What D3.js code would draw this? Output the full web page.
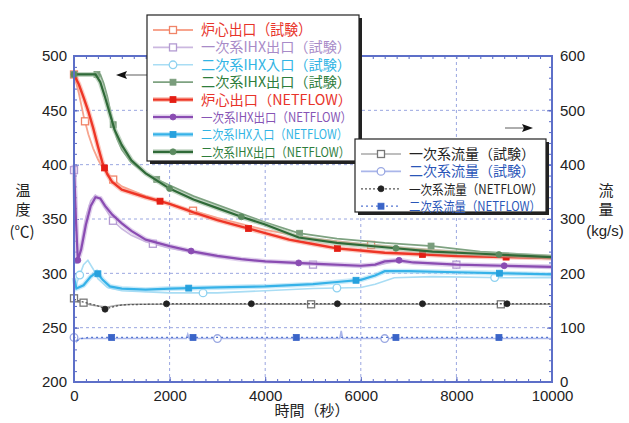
<!DOCTYPE html>
<html>
<head>
<meta charset="utf-8">
<script src="https://cdn.jsdelivr.net/npm/d3@7"></script>
<style>
  body { margin: 0; background: #fff; }
</style>
</head>
<body>
<div id="chart"></div>
<script>
// temperature series [time (s), temperature (C)]
var coreTest = [[0,483],[100,466],[200,445],[300,428],[400,415],[500,405],[600,397],[800,387],[1000,380],[1500,371],[2000,364],[3000,351],[4000,340],[5000,332],[6000,327],[7000,323],[8000,320],[9000,317],[10000,316]];
var pIhxTest = [[0,395],[40,345],[90,315],[160,328],[250,352],[350,367],[450,372],[550,368],[650,360],[800,349],[1000,341],[1200,335],[1500,329],[2000,323],[3000,315],[4000,311],[5000,308],[6000,306],[6400,308],[6700,311],[7000,310],[8000,308],[10000,305]];
var sInTest = [[0,285],[100,296],[200,308],[290,312],[400,304],[500,295],[700,287],[1000,284],[2000,282],[3000,282],[4000,284],[5000,286],[6000,287],[6300,290],[6700,296],[7500,297],[9000,296],[10000,296]];
var sOutTest = [[0,483],[550,483],[620,475],[700,462],[800,440],[900,424],[1000,414],[1200,402],[1500,392],[1750,386],[2000,381],[2500,371],[3000,363],[3500,355],[4000,347],[4700,337],[5500,332],[6500,328],[7500,325],[8500,320],[10000,316]];
var coreNF = [[0,483],[100,474],[200,462],[300,449],[400,434],[500,417],[600,401],[700,391],[800,384],[1000,377],[1500,370],[2000,364],[2500,356],[3000,349],[3500,343],[4000,337],[4500,331],[5000,327],[5500,323],[6000,321],[6500,319],[7000,318],[8000,316],[9000,315],[10000,314]];
var pIhxNF = [[0,400],[40,350],[80,312],[150,322],[250,345],[350,362],[450,370],[550,369],[650,362],[800,354],[1000,346],[1200,339],[1500,331],[2000,325],[2500,320],[3000,316],[3500,313],[4000,311],[5000,309],[6000,307],[6300,308],[6500,311],[6800,312],[7100,310],[8000,308],[9000,307],[10000,306]];
var sInNF = [[0,296],[50,286],[200,289],[350,297],[475,301],[600,294],[750,288],[1000,286],[1500,285],[2000,286],[3000,287],[4000,288],[5000,290],[5500,292],[6000,294],[6300,298],[6500,302],[7000,302],[8000,301],[9000,300],[10000,299]];
var sOutNF = [[0,483],[450,483],[550,476],[650,462],[750,447],[850,432],[1000,418],[1200,404],[1500,392],[2000,378],[2500,368],[3000,360],[3500,352],[4000,345],[4700,333],[5500,328],[6500,324],[7500,320],[8500,318],[10000,315]];

// flow series [time (s), flow (kg/s)]
var pFlowTest = [[0,154],[100,147],[200,146],[350,142],[500,140],[700,138],[900,141],[1200,143],[2000,143],[10000,143]];
var sFlowTest = [[0,82],[50,74],[120,80],[300,80],[2350,80],[2380,88],[2410,80],[5560,80],[5590,94],[5620,80],[10000,80]];
var pFlowNF = [[0,152],[150,148],[300,145],[500,140],[650,134],[800,138],[1000,142],[1500,143],[2000,144],[10000,144]];
var sFlowNF = [[0,84],[60,76],[150,80],[300,82],[1000,82],[10000,82]];

// marker times along each series
var coreTestMarks = [0, 230, 820, 2490, 6215];
var pIhxTestMarks = [0, 815, 1650, 5000, 8000];
var sInTestMarks = [120, 2700, 5500, 8800];
var sOutTestMarks = [0, 480, 820, 1730, 4720, 7470];
var coreNFMarks = [640, 1800, 3650, 5510, 7290, 9040];
var pIhxNFMarks = [80, 2450, 4700, 6800, 9000];
var sInNFMarks = [500, 2400, 5900, 8900];
var sOutNFMarks = [0, 2000, 3500, 6735, 8890];
var pFlowTestMarks = [0, 200, 4960, 8930];
var sFlowTestMarks = [0, 3000, 6500];
var pFlowNFMarks = [650, 1935, 3710, 5510, 7290, 9060];
var sFlowNFMarks = [787, 2490, 4650, 6735, 8890];

// axis ticks
var xTicks = [0, 2000, 4000, 6000, 8000, 10000];
var tTicks = [200, 250, 300, 350, 400, 450, 500];
var fTicks = [0, 100, 200, 300, 400, 500, 600];

// legend labels
var tempLabels = ["炉心出口（試験）", "一次系IHX出口（試験）", "二次系IHX入口（試験）", "二次系IHX出口（試験）",
                  "炉心出口（NETFLOW）", "一次系IHX出口（NETFLOW）", "二次系IHX入口（NETFLOW）", "二次系IHX出口（NETFLOW）"];
var flowLabels = ["一次系流量（試験）", "二次系流量（試験）", "一次系流量（NETFLOW）", "二次系流量（NETFLOW）"];

var W = 629, H = 423;
var pLeft = 74, pRight = 552, pTop = 56, pBottom = 382;
var numFont = "'Liberation Sans', Arial, sans-serif";
var jpFont = "'Noto Sans CJK JP', 'Noto Sans', sans-serif";

var x = d3.scaleLinear().domain([0, 10000]).range([pLeft, pRight]);
var yT = d3.scaleLinear().domain([200, 500]).range([pBottom, pTop]);
var yF = d3.scaleLinear().domain([0, 600]).range([pBottom, pTop]);

var svg = d3.select("#chart").append("svg")
    .attr("width", W)
    .attr("height", H);

// dashed grid
svg.append("g").selectAll("line")
    .data(xTicks.slice(1, -1))
    .enter().append("line")
    .attr("x1", function(d) { return x(d); })
    .attr("x2", function(d) { return x(d); })
    .attr("y1", pTop).attr("y2", pBottom)
    .style("stroke", "#9aa6e0").style("stroke-width", 1).style("stroke-dasharray", "3,3");
svg.append("g").selectAll("line")
    .data(tTicks.slice(1, -1))
    .enter().append("line")
    .attr("x1", pLeft).attr("x2", pRight)
    .attr("y1", function(d) { return yT(d); })
    .attr("y2", function(d) { return yT(d); })
    .style("stroke", "#9aa6e0").style("stroke-width", 1).style("stroke-dasharray", "3,3");

// axes with inside ticks
function styleAxis(g) {
    g.select(".domain").remove();
    g.selectAll(".tick line").style("stroke", "#5566c4");
    g.selectAll("text").style("font-family", numFont).style("font-size", "15px").style("fill", "#222");
}
var minorX = d3.range(0, 10001, 250);
var minorT = d3.range(200, 501, 10);
var minorF = d3.range(0, 601, 20);

svg.append("g").attr("transform", "translate(0," + pBottom + ")")
    .call(d3.axisBottom(x).tickValues(xTicks).tickSize(-5).tickPadding(8).tickFormat(d3.format("d")))
    .call(styleAxis);
svg.append("g").attr("transform", "translate(0," + pBottom + ")")
    .call(d3.axisBottom(x).tickValues(minorX).tickSize(-3).tickFormat(""))
    .call(styleAxis);
svg.append("g").attr("transform", "translate(0," + pTop + ")")
    .call(d3.axisTop(x).tickValues(minorX).tickSize(-3).tickFormat(""))
    .call(styleAxis);
svg.append("g").attr("transform", "translate(" + pLeft + ",0)")
    .call(d3.axisLeft(yT).tickValues(tTicks).tickSize(-5).tickPadding(7))
    .call(styleAxis);
svg.append("g").attr("transform", "translate(" + pLeft + ",0)")
    .call(d3.axisLeft(yT).tickValues(minorT).tickSize(-3).tickFormat(""))
    .call(styleAxis);
svg.append("g").attr("transform", "translate(" + pRight + ",0)")
    .call(d3.axisRight(yF).tickValues(fTicks).tickSize(-5).tickPadding(8))
    .call(styleAxis);
svg.append("g").attr("transform", "translate(" + pRight + ",0)")
    .call(d3.axisRight(yF).tickValues(minorF).tickSize(-3).tickFormat(""))
    .call(styleAxis);

// the series
function interp(data, t) {
    for (var i = 1; i < data.length; i++) {
        if (t <= data[i][0]) {
            var a = data[i - 1], b = data[i];
            return a[1] + (b[1] - a[1]) * (t - a[0]) / (b[0] - a[0]);
        }
    }
    return data[data.length - 1][1];
}

var series = [
    {data: pFlowTest, y: yF, color: "#a8a8a8", width: 1.6, marks: pFlowTestMarks, shape: "square", hollow: true, mcolor: "#777"},
    {data: sFlowTest, y: yF, color: "#aab6ea", width: 1.6, marks: sFlowTestMarks, shape: "circle", hollow: true, mcolor: "#9aa8e2"},
    {data: pFlowNF, y: yF, color: "#555", width: 1.3, dash: "2,2", marks: pFlowNFMarks, shape: "circle", hollow: false, mcolor: "#222"},
    {data: sFlowNF, y: yF, color: "#5577d2", width: 1.3, dash: "2,3", marks: sFlowNFMarks, shape: "square", hollow: false, mcolor: "#3a64c8"},
    {data: sInTest, y: yT, color: "#a9ddf4", width: 1.6, marks: sInTestMarks, shape: "circle", hollow: true, mcolor: "#8fd2f0"},
    {data: pIhxTest, y: yT, color: "#cbb8e0", width: 1.6, marks: pIhxTestMarks, shape: "square", hollow: true, mcolor: "#b39bd2"},
    {data: sInNF, y: yT, color: "#36b2e8", width: 2.2, halo: "#a5dcf5", marks: sInNFMarks, shape: "square", hollow: false, mcolor: "#27a1de"},
    {data: pIhxNF, y: yT, color: "#8a4cb2", width: 2.2, halo: "#cbb0e0", marks: pIhxNFMarks, shape: "circle", hollow: false, mcolor: "#8a4cb2"},
    {data: coreTest, y: yT, color: "#f7a48e", width: 1.8, marks: coreTestMarks, shape: "square", hollow: true, mcolor: "#f08468"},
    {data: sOutTest, y: yT, color: "#7ea281", width: 1.8, marks: sOutTestMarks, shape: "square", hollow: false, mcolor: "#7a9d7c"},
    {data: coreNF, y: yT, color: "#ee3526", width: 2.4, halo: "#f8a797", marks: coreNFMarks, shape: "square", hollow: false, mcolor: "#e41e14"},
    {data: sOutNF, y: yT, color: "#2f6a38", width: 2.2, halo: "#9dbb9f", marks: sOutNFMarks, shape: "circle", hollow: false, mcolor: "#5b8a5f"}
];

var plot = svg.append("g");

function drawMarker(g, shape, hollow, color, cx, cy) {
    if (shape === "square") {
        var s = hollow ? 7 : 6;
        g.append("rect")
            .attr("x", cx - s / 2).attr("y", cy - s / 2)
            .attr("width", s).attr("height", s)
            .style("fill", hollow ? "#fff" : color)
            .style("stroke", color).style("stroke-width", hollow ? 1.3 : 0.8);
    } else {
        g.append("circle")
            .attr("cx", cx).attr("cy", cy).attr("r", hollow ? 3.8 : 3)
            .style("fill", hollow ? "#fff" : color)
            .style("stroke", color).style("stroke-width", hollow ? 1.3 : 0.8);
    }
}

series.forEach(function(s) {
    var line = d3.line()
        .x(function(d) { return x(d[0]); })
        .y(function(d) { return s.y(d[1]); });
    if (s.halo) {
        plot.append("path").datum(s.data).attr("d", line)
            .style("fill", "none").style("stroke", s.halo).style("stroke-width", 5).style("opacity", 0.6);
    }
    plot.append("path").datum(s.data).attr("d", line)
        .style("fill", "none").style("stroke", s.color).style("stroke-width", s.width)
        .style("stroke-dasharray", s.dash || null);
    s.marks.forEach(function(t) {
        drawMarker(plot, s.shape, s.hollow, s.mcolor, x(t), s.y(interp(s.data, t)));
    });
});

// frame
svg.append("rect")
    .attr("x", pLeft).attr("y", pTop)
    .attr("width", pRight - pLeft).attr("height", pBottom - pTop)
    .style("fill", "none").style("stroke", "#5d6fc8").style("stroke-width", 2);

// arrows pointing at the axes
function arrow(x1, x2, yy) {
    var dir = x2 > x1 ? 1 : -1;
    svg.append("line").attr("x1", x1).attr("x2", x2 - dir * 8).attr("y1", yy).attr("y2", yy)
        .style("stroke", "#777").style("stroke-width", 1.2);
    svg.append("path")
        .attr("d", "M" + x2 + "," + yy + "L" + (x2 - dir * 11) + "," + (yy - 4) + "L" + (x2 - dir * 9) + "," + yy + "L" + (x2 - dir * 11) + "," + (yy + 4) + "Z")
        .style("fill", "#111");
}
arrow(147, 116, 75);
arrow(505, 533, 128);

// legends
var tempOrder = [8, 5, 4, 9, 10, 7, 6, 11];
var tempText = ["#e8332a", "#a88bc8", "#31b4e4", "#2e7d3c", "#e8332a", "#8654b5", "#31b4e4", "#2e7d3c"];
var tempWidths = [111, 150, 150, 150, 151, 151, 147, 149];
var flowOrder = [0, 1, 2, 3];
var flowText = ["#222", "#2a56b8", "#222", "#2a56b8"];
var flowWidths = [126, 126, 134, 132];

function legend(x0, y0, w, h, rows, order, colors, widths, fontSizes) {
    var g = svg.append("g");
    g.append("rect").attr("x", x0 + 3).attr("y", y0 + 3).attr("width", w).attr("height", h).style("fill", "#222");
    g.append("rect").attr("x", x0).attr("y", y0).attr("width", w).attr("height", h)
        .style("fill", "#fff").style("stroke", "#222").style("stroke-width", 1.2);
    rows.forEach(function(label, i) {
        var s = series[order[i]];
        var cy = y0 + 15 + i * 17.4;
        if (s.halo) {
            g.append("line").attr("x1", x0 + 6).attr("x2", x0 + 46).attr("y1", cy).attr("y2", cy)
                .style("stroke", s.halo).style("stroke-width", 5).style("opacity", 0.6);
        }
        g.append("line").attr("x1", x0 + 6).attr("x2", x0 + 46).attr("y1", cy).attr("y2", cy)
            .style("stroke", s.color).style("stroke-width", s.width).style("stroke-dasharray", s.dash || null);
        drawMarker(g, s.shape, s.hollow, s.mcolor, x0 + 26, cy);
        g.append("text")
            .attr("x", x0 + 54).attr("y", cy + 5)
            .attr("textLength", widths[i]).attr("lengthAdjust", "spacingAndGlyphs")
            .style("font-family", jpFont).style("font-size", fontSizes[i] + "px")
            .style("fill", colors[i])
            .text(label);
    });
}
legend(147, 15, 212, 146, tempLabels, tempOrder, tempText, tempWidths, [15, 14, 14, 14, 14, 13, 13, 13]);
legend(355, 139, 191, 73, flowLabels, flowOrder, flowText, flowWidths, [14, 14, 13, 13]);

// axis titles
function title(txt, xx, yy, font) {
    svg.append("text").attr("x", xx).attr("y", yy).attr("text-anchor", "middle")
        .style("font-family", font || jpFont).style("font-size", "15px").style("fill", "#222")
        .text(txt);
}
title("温", 23, 196);
title("度", 23, 215);
title("(℃)", 22, 237);
title("流", 606, 196);
title("量", 606, 215);
title("(kg/s)", 605, 236, numFont);
title("時間（秒）", 312, 416);
</script>
</body>
</html>
